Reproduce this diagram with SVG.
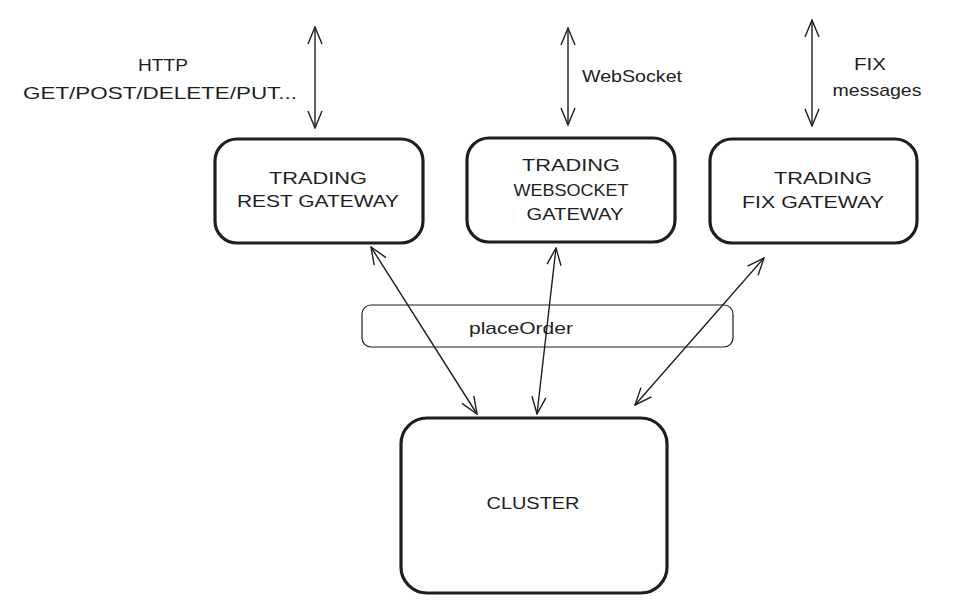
<svg xmlns="http://www.w3.org/2000/svg" width="957" height="609" viewBox="0 0 957 609">
<style>
.box{fill:#fff;stroke:#1e1e1e;stroke-width:3.2}
.thin{fill:none;stroke:#1e1e1e;stroke-width:1.2}
.conn{fill:none;stroke:#1e1e1e;stroke-width:1.4}
text{font-family:"Liberation Sans","DejaVu Sans",sans-serif;font-size:17px;fill:#1e1e1e;text-anchor:middle}
</style>
<defs>
<marker id="head" viewBox="0 0 20 20" refX="19" refY="10" markerWidth="20" markerHeight="20" markerUnits="userSpaceOnUse" orient="auto-start-reverse">
<path d="M2 3 L19 10 L2 17" fill="none" stroke="#1e1e1e" stroke-width="1.4"/>
</marker>
</defs>
<rect width="957" height="609" fill="#fff"/>
<g id="connectors">
<line class="conn" x1="315" y1="27" x2="315" y2="128" marker-start="url(#head)" marker-end="url(#head)"/>
<line class="conn" x1="568" y1="28" x2="568" y2="125" marker-start="url(#head)" marker-end="url(#head)"/>
<line class="conn" x1="812" y1="20" x2="812" y2="126" marker-start="url(#head)" marker-end="url(#head)"/>
<line class="conn" x1="371" y1="247" x2="477" y2="414" marker-start="url(#head)" marker-end="url(#head)"/>
<line class="conn" x1="556" y1="248" x2="537" y2="414" marker-start="url(#head)" marker-end="url(#head)"/>
<line class="conn" x1="764" y1="258" x2="635" y2="405" marker-start="url(#head)" marker-end="url(#head)"/>
</g>
<g id="label-http">
<text x="163" y="71" textLength="50" lengthAdjust="spacingAndGlyphs">HTTP</text>
<text x="160" y="99" textLength="274" lengthAdjust="spacingAndGlyphs">GET/POST/DELETE/PUT...</text>
</g>
<g id="label-ws">
<text x="632" y="82" textLength="100" lengthAdjust="spacingAndGlyphs">WebSocket</text>
</g>
<g id="label-fix">
<text x="870" y="70" textLength="32" lengthAdjust="spacingAndGlyphs">FIX</text>
<text x="877" y="96" textLength="89" lengthAdjust="spacingAndGlyphs">messages</text>
</g>
<g id="rest-gateway">
<rect class="box" x="215" y="139" width="208" height="104" rx="22"/>
<text x="318" y="184" textLength="98" lengthAdjust="spacingAndGlyphs">TRADING</text>
<text x="318" y="207" textLength="162" lengthAdjust="spacingAndGlyphs">REST GATEWAY</text>
</g>
<g id="websocket-gateway">
<rect class="box" x="467" y="138" width="208" height="104" rx="22"/>
<text x="571" y="171" textLength="98" lengthAdjust="spacingAndGlyphs">TRADING</text>
<text x="571" y="196" textLength="115" lengthAdjust="spacingAndGlyphs">WEBSOCKET</text>
<text x="575" y="220" textLength="97" lengthAdjust="spacingAndGlyphs">GATEWAY</text>
</g>
<g id="fix-gateway">
<rect class="box" x="710" y="139" width="207" height="104" rx="22"/>
<text x="823" y="184" textLength="98" lengthAdjust="spacingAndGlyphs">TRADING</text>
<text x="813" y="208" textLength="142" lengthAdjust="spacingAndGlyphs">FIX GATEWAY</text>
</g>
<g id="place-order">
<rect class="thin" x="362" y="305" width="371" height="42" rx="9"/>
<text x="521" y="334" textLength="104" lengthAdjust="spacingAndGlyphs">placeOrder</text>
</g>
<g id="cluster">
<rect class="box" x="401" y="418" width="266" height="175" rx="26"/>
<text x="533" y="509" textLength="93" lengthAdjust="spacingAndGlyphs">CLUSTER</text>
</g>
</svg>
